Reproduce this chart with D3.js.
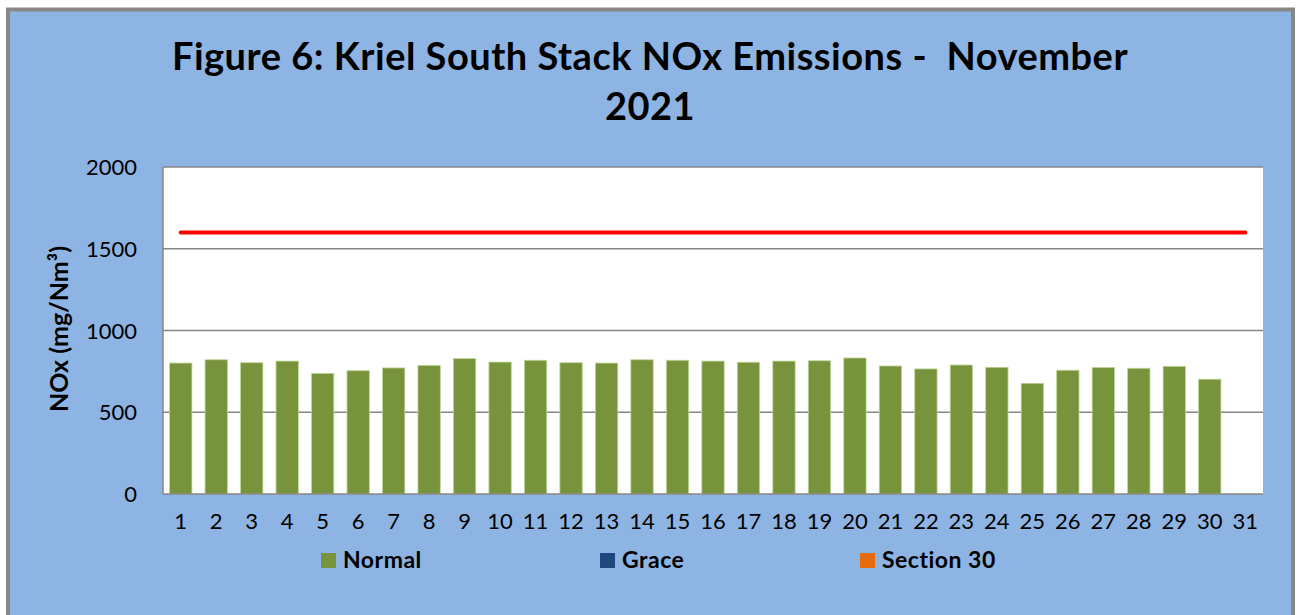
<!DOCTYPE html>
<html><head><meta charset="utf-8">
<script src="https://cdn.jsdelivr.net/npm/d3@7"></script>
<style>body{margin:0;background:#fff;} svg{display:block;}</style>
</head><body>
<svg id="c" width="1300" height="615"></svg>
<script>
const days = d3.range(1, 32).map(String);
const normal = [801,821,803,813,738,754,771,787,828,807,818,803,801,821,818,813,806,813,815,832,783,765,789,775,677,757,774,769,781,702,null];
const limit = 1600;
const yTicks = [0,500,1000,1500,2000];
const titleLines = ["Figure 6: Kriel South Stack NOx Emissions -  November","2021"];
const legendItems = [{name:"Normal",color:"#77933C"},{name:"Grace",color:"#1F497D"},{name:"Section 30",color:"#E46C0A"}];

const svg = d3.select("#c");
const font = "Lato, 'Open Sans', sans-serif";
svg.append("rect").attr("x",8).attr("y",9.5).attr("width",1285).attr("height",620)
  .attr("fill","#8EB4E3").attr("stroke","#878787").attr("stroke-width",4);

const L=163,R=1263,T=167,B=494;
const x = d3.scaleBand().domain(days).range([L,R]).paddingInner(0.37).paddingOuter(0.185);
const y = d3.scaleLinear().domain([0,2000]).range([B,T]);

svg.append("rect").attr("x",L).attr("y",T).attr("width",R-L).attr("height",B-T).attr("fill","#fff");
svg.append("g").selectAll("line").data(yTicks.slice(1)).join("line")
  .attr("x1",L).attr("x2",R).attr("y1",d=>y(d)).attr("y2",d=>y(d))
  .attr("stroke","#868686").attr("stroke-width",1.5);

svg.append("g").selectAll("rect").data(days.map((d,i)=>({d,v:normal[i]})).filter(o=>o.v!=null)).join("rect")
  .attr("x",o=>x(o.d)).attr("width",x.bandwidth())
  .attr("y",o=>y(o.v)).attr("height",o=>B-y(o.v))
  .attr("fill","#77933C").attr("stroke","#C3D69B").attr("stroke-width",0.8);

svg.append("line").attr("x1",x("1")+x.bandwidth()/2).attr("x2",x("31")+x.bandwidth()/2)
  .attr("y1",y(limit)).attr("y2",y(limit)).attr("stroke","#FF0000").attr("stroke-width",4).attr("stroke-linecap","round");

svg.append("line").attr("x1",L).attr("x2",L).attr("y1",T).attr("y2",B).attr("stroke","#868686").attr("stroke-width",1.5);
svg.append("line").attr("x1",L).attr("x2",R).attr("y1",B).attr("y2",B).attr("stroke","#868686").attr("stroke-width",1.5);

svg.append("g").selectAll("text").data(yTicks).join("text")
  .attr("x",137).attr("y",d=>y(d)+8).attr("text-anchor","end")
  .attr("font-family",font).attr("font-size",22).text(d=>d);
svg.append("g").selectAll("text").data(days).join("text")
  .attr("x",d=>x(d)+x.bandwidth()/2).attr("y",529).attr("text-anchor","middle")
  .attr("font-family",font).attr("font-size",22).text(d=>d);

svg.append("text").attr("transform","translate(68,329) rotate(-90)").attr("text-anchor","middle")
  .attr("font-family",font).attr("font-weight","bold").attr("font-size",25).text("NOx (mg/Nm³)");

svg.append("g").selectAll("text").data(titleLines).join("text")
  .attr("x",650).attr("y",(d,i)=>70+i*50).attr("text-anchor","middle")
  .style("white-space","pre").attr("letter-spacing",0.5)
  .attr("font-family",font).attr("font-weight","bold").attr("font-size",38).text(d=>d);

const lx=[321,600,860];
const lg = svg.append("g").selectAll("g").data(legendItems).join("g")
  .attr("transform",(d,i)=>`translate(${lx[i]},553)`);
lg.append("rect").attr("width",15).attr("height",15).attr("fill",d=>d.color);
lg.append("text").attr("x",22).attr("y",15).attr("font-family",font).attr("font-weight","bold")
  .attr("letter-spacing",0.5).attr("font-size",23).text(d=>d.name);
</script>
</body></html>
